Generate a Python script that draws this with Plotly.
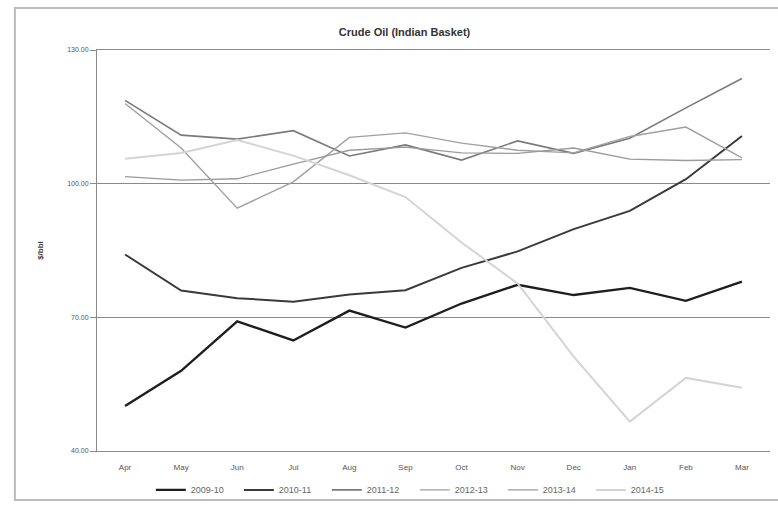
import plotly.graph_objects as go

months = ["Apr", "May", "Jun", "Jul", "Aug", "Sep", "Oct", "Nov", "Dec", "Jan", "Feb", "Mar"]
y_2009_10 = [50.1, 58.0, 69.1, 64.8, 71.5, 67.7, 73.1, 77.3, 75.0, 76.6, 73.7, 78.0]
y_2010_11 = [84.1, 76.0, 74.3, 73.5, 75.1, 76.1, 81.1, 84.8, 89.8, 93.9, 101.0, 110.7]
y_2011_12 = [118.7, 110.9, 110.0, 111.9, 106.2, 108.7, 105.3, 109.6, 106.8, 110.2, 117.0, 123.6]
y_2012_13 = [118.0, 108.0, 94.5, 100.4, 110.4, 111.4, 109.1, 107.5, 106.9, 110.6, 112.7, 105.8]
y_2013_14 = [101.6, 100.8, 101.1, 104.4, 107.5, 108.2, 106.9, 106.8, 108.0, 105.5, 105.2, 105.4]
y_2014_15 = [105.6, 106.9, 109.8, 106.3, 101.9, 97.0, 86.8, 77.6, 61.2, 46.6, 56.4, 54.2]

series = [
    ("2009-10", y_2009_10, "#1e1e1e", 2.4),
    ("2010-11", y_2010_11, "#3a3a3a", 2.0),
    ("2011-12", y_2011_12, "#7a7a7a", 1.6),
    ("2012-13", y_2012_13, "#a0a0a0", 1.4),
    ("2013-14", y_2013_14, "#9a9a9a", 1.3),
    ("2014-15", y_2014_15, "#d4d4d4", 2.0),
]

fig = go.Figure()
for name, vals, color, w in series:
    fig.add_trace(go.Scatter(x=months, y=vals, mode="lines", name=name,
                             line=dict(color=color, width=w)))

fig.update_layout(
    width=778, height=508,
    margin=dict(l=97, r=8, t=50, b=57, autoexpand=False),
    paper_bgcolor="white", plot_bgcolor="white",
    font=dict(family="Liberation Sans, Arial, sans-serif", color="#555555", size=8),
    title=dict(text="<b>Crude Oil (Indian Basket)</b>", x=0.52, xanchor="center",
               y=0.937, yanchor="middle", font=dict(size=11, color="#333333")),
    showlegend=True,
    legend=dict(orientation="h", x=0.08, xanchor="left", y=-0.097, yanchor="middle",
                font=dict(size=9, color="#666666"), itemwidth=30,
                entrywidth=43, entrywidthmode="pixels",
                bgcolor="rgba(0,0,0,0)"),
    xaxis=dict(type="category", range=[-0.5, 11.5], showgrid=False,
               showline=True, mirror=True, linecolor="#8a8a8a", linewidth=1,
               ticks="outside", ticklen=8, tickcolor="rgba(0,0,0,0)",
               tickfont=dict(size=8, color="#555555")),
    yaxis=dict(range=[40, 130], tickvals=[40, 70, 100, 130], tickformat=".2f",
               showgrid=True, gridcolor="#8a8a8a", gridwidth=1,
               showline=True, linecolor="#8a8a8a", linewidth=1,
               ticks="outside", ticklen=6, tickcolor="#8a8a8a",
               zeroline=False, tickfont=dict(size=7, color="#555555"),
               title=dict(text="<b>$/bbl</b>", font=dict(size=8, color="#444444"),
                          standoff=22)),
    shapes=[dict(type="rect", xref="paper", yref="paper",
                 x0=-0.122, x1=1.03, y0=-0.122, y1=1.105,
                 line=dict(color="#bbbbbb", width=2))],
)

fig.write_html("out.html")
